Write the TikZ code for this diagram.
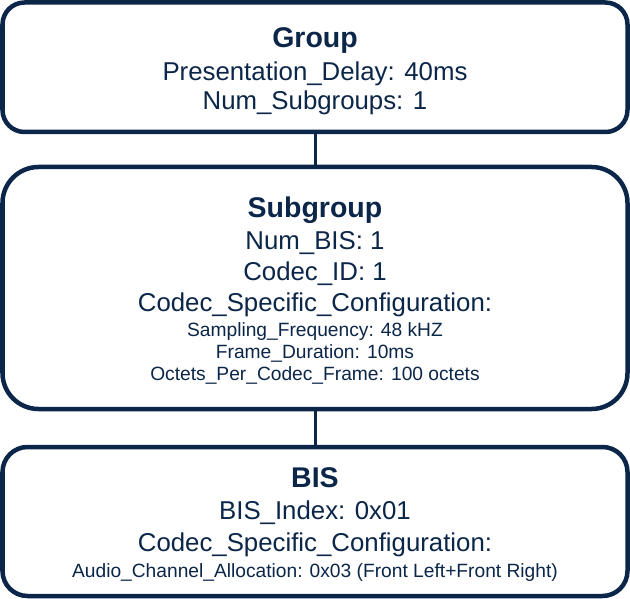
\documentclass[tikz,border=0pt]{standalone}
\usepackage{fontspec}
\setmainfont{Liberation Sans}
\definecolor{navy}{HTML}{0B2648}
\begin{document}
\begin{tikzpicture}[x=1pt,y=-1pt,
  box/.style={draw=navy,line width=4.5pt,inner sep=0pt,fill=white},
  conn/.style={draw=navy,line width=3pt},
  ttl/.style={anchor=base,text=navy,font=\fontsize{28.5}{30}\selectfont\bfseries,inner sep=0pt},
  big/.style={anchor=base,text=navy,font=\fontsize{25.8}{28}\selectfont,inner sep=0pt},
  small/.style={anchor=base,text=navy,font=\fontsize{19.2}{21}\selectfont,inner sep=0pt}]
\useasboundingbox (0,0) rectangle (630,599);
% boxes
\node[box,rounded corners=22pt,minimum width=625pt,minimum height=129.5pt] (group) at (315,67.25) {};
\node[box,rounded corners=36pt,minimum width=625pt,minimum height=242pt] (sub) at (315,288) {};
\node[box,rounded corners=25pt,minimum width=625pt,minimum height=149pt] (bis) at (315,521.5) {};
\draw[conn] (group.south) -- (sub.north);
\draw[conn] (sub.south) -- (bis.north);
% group text
\node[ttl] (gt) at (315,48) {Group};
\node[big] (g1) at (315,80.7) {Presentation\_Delay: 40ms};
\node[big] (g2) at (315,109.5) {Num\_Subgroups: 1};
% subgroup text
\node[ttl] (st) at (315,217.5) {Subgroup};
\node[big] (s1) at (315,249.3) {Num\_BIS: 1};
\node[big] (s2) at (315,280.3) {Codec\_ID: 1};
\node[big] (s3) at (315,311.5) {Codec\_Specific\_Configuration:};
\node[small] (s4) at (315,336.7) {Sampling\_Frequency: 48 kHZ};
\node[small] (s5) at (315,358.5) {Frame\_Duration: 10ms};
\node[small] (s6) at (315,380.5) {Octets\_Per\_Codec\_Frame: 100 octets};
% bis text
\node[ttl] (bt) at (315,487.5) {BIS};
\node[big] (b1) at (315,519.5) {BIS\_Index: 0x01};
\node[big] (b2) at (315,551) {Codec\_Specific\_Configuration:};
\node[small] (b3) at (315,577) {Audio\_Channel\_Allocation: 0x03 (Front Left+Front Right)};
\end{tikzpicture}
\end{document}
